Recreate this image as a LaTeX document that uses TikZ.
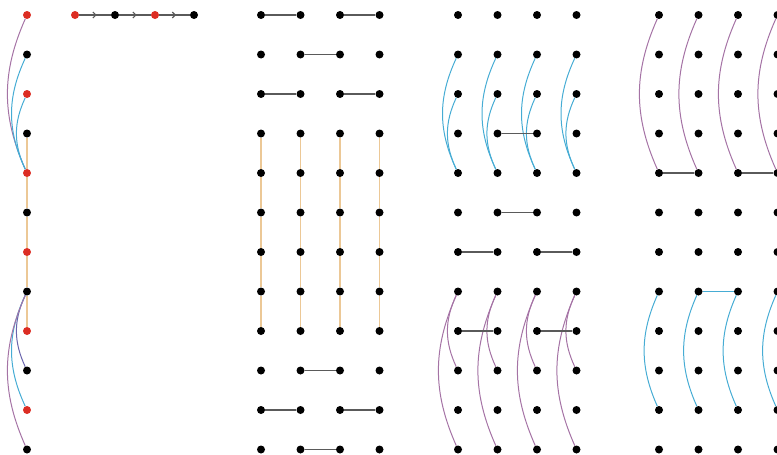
\documentclass[tikz,border=0pt]{standalone}
\usepackage{tikz}
\usepackage{xcolor}
\usetikzlibrary{arrows.meta,decorations.markings}
\definecolor{dotred}{RGB}{220,45,35}
\definecolor{arcpurple}{RGB}{165,115,165}
\definecolor{arcblue}{RGB}{70,172,212}
\definecolor{arcindigo}{RGB}{105,100,172}
\definecolor{linktan}{RGB}{236,200,150}
\definecolor{linkgrey}{RGB}{90,90,90}

\begin{document}
\begin{tikzpicture}[x=1pt, y=1pt,
  dot/.style={circle, fill=black, inner sep=0pt, minimum size=8pt},
  reddot/.style={dot, fill=dotred},
  link/.style={draw=linkgrey, line width=1.1pt},
  tanline/.style={draw=linktan, line width=1.3pt},
  purplearc/.style={draw=arcpurple, line width=1pt},
  bluearc/.style={draw=arcblue, line width=1pt},
  indigoarc/.style={draw=arcindigo, line width=1pt},
  midarrow/.style={link, postaction={decorate}, decoration={markings,
    mark=at position 0.55 with {\arrow{Straight Barb[length=3pt, width=6pt]}}}}]
\useasboundingbox (0,0) rectangle (777,-455);

% left column
\foreach \r/\col in {0/dotred,1/black,2/dotred,3/black,4/dotred,5/black,
                     6/dotred,7/black,8/dotred,9/black,10/dotred,11/black}
  \node[dot, fill=\col] (L\r) at (27,{-15-39.5*\r}) {};
\draw[purplearc] (L0) to[bend right=24] (L4);
\draw[bluearc] (L1) to[bend right=25] (L4);
\draw[bluearc] (L2) to[bend right=25] (L4);
\draw[tanline] (L3) -- (L4) -- (L5) -- (L6) -- (L7) -- (L8);
\draw[indigoarc] (L7) to[bend right=25] (L9);
\draw[bluearc] (L7) to[bend right=25] (L10);
\draw[purplearc] (L7) to[bend right=24] (L11);

% chain
\node[reddot] (t1) at (75,-15) {};
\node[dot] (t2) at (115,-15) {};
\node[reddot] (t3) at (155,-15) {};
\node[dot] (t4) at (194,-15) {};
\draw[midarrow] (t1) -- (t2);
\draw[midarrow] (t2) -- (t3);
\draw[midarrow] (t3) -- (t4);

% three blocks of dots
\foreach \c in {0,...,3}
  \foreach \r in {0,...,11} {
    \node[dot] (B\c-\r) at ({261+39.5*\c},{-15-39.5*\r}) {};
    \node[dot] (C\c-\r) at ({458+39.5*\c},{-15-39.5*\r}) {};
    \node[dot] (D\c-\r) at ({659+39.5*\c},{-15-39.5*\r}) {};
  }

% block B
\draw[link] (B0-0) -- (B1-0);
\draw[link] (B2-0) -- (B3-0);
\draw[link] (B1-1) -- (B2-1);
\draw[link] (B0-2) -- (B1-2);
\draw[link] (B2-2) -- (B3-2);
\foreach \c in {0,...,3}
  \draw[tanline] (B\c-3) -- (B\c-4) -- (B\c-5) -- (B\c-6) -- (B\c-7) -- (B\c-8);
\draw[link] (B1-9) -- (B2-9);
\draw[link] (B0-10) -- (B1-10);
\draw[link] (B2-10) -- (B3-10);
\draw[link] (B1-11) -- (B2-11);

% block C
\foreach \c in {0,...,3} {
  \draw[bluearc] (C\c-1) to[bend right=25] (C\c-4);
  \draw[bluearc] (C\c-2) to[bend right=25] (C\c-4);
  \draw[purplearc] (C\c-7) to[bend right=25] (C\c-9);
  \draw[purplearc] (C\c-7) to[bend right=24] (C\c-11);
}
\draw[link] (C1-3) -- (C2-3);
\draw[link] (C1-5) -- (C2-5);
\draw[link] (C0-6) -- (C1-6);
\draw[link] (C2-6) -- (C3-6);
\draw[link] (C0-8) -- (C1-8);
\draw[link] (C2-8) -- (C3-8);

% block D
\foreach \c in {0,...,3} {
  \draw[purplearc] (D\c-0) to[bend right=24] (D\c-4);
  \draw[bluearc] (D\c-7) to[bend right=24] (D\c-10);
}
\draw[link] (D0-4) -- (D1-4);
\draw[link] (D2-4) -- (D3-4);
\draw[bluearc] (D1-7) -- (D2-7);
\end{tikzpicture}
\end{document}
